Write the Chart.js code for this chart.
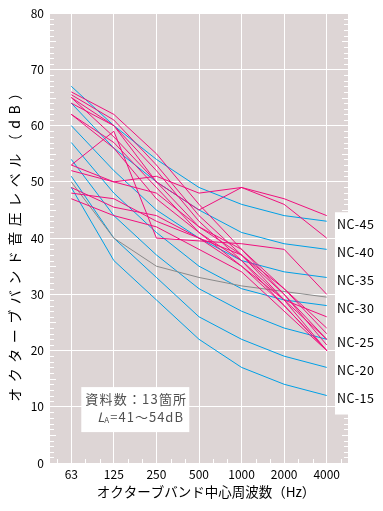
<!DOCTYPE html>
<html><head><meta charset="utf-8">
<script src="https://cdn.jsdelivr.net/npm/chart.js@4/dist/chart.umd.min.js"></script>
<style>html,body{margin:0;padding:0;background:#fff;}#wrap{width:383px;height:511px;position:relative;}</style>
</head><body><div id="wrap"><canvas id="c" width="383" height="511"></canvas></div>
<script>
const freqLabels = ['63','125','250','500','1000','2000','4000'];
const yMin = 0, yMax = 80, yStep = 10;
const ncNames = ['NC-45','NC-40','NC-35','NC-30','NC-25','NC-20','NC-15'];
const nc45 = [67, 60, 54, 49, 46, 44, 43];
const nc40 = [64, 56, 50, 45, 41, 39, 38];
const nc35 = [60, 52, 45, 40, 36, 34, 33];
const nc30 = [57, 48, 41, 35, 31, 29, 28];
const nc25 = [54, 44, 37, 31, 27, 24, 22];
const nc20 = [51, 40, 33, 26, 22, 19, 17];
const nc15 = [49, 36, 29, 22, 17, 14, 12];
const grayLine = [50, 40, 35, 33, 31.5, 30.5, 29.5];
const m1  = [66, 62, 55, 46, 38, 30, 21];
const m2  = [65.5, 61, 53, 44, 37, 29, 20];
const m3  = [65, 60, 52, 43, 36, 28, 20];
const m4  = [64, 60, 50, 42, 37, 31, 23];
const m5  = [62, 57, 49, 41, 36, 29, 22];
const m6  = [65, 58, 50, 45, 49, 46, 40];
const m7  = [53, 50, 51, 48, 49, 47, 44];
const m8  = [53, 59, 40, 39.5, 39, 38, 30];
const m9  = [62, 56, 47, 41, 35, 29, 26];
const m10 = [52, 50, 48, 42, 38, 31, 24];
const m11 = [49, 45.5, 44, 40, 35, 28, 20];
const m12 = [48, 47, 43, 40, 37, 30, 22];
const m13 = [47, 44, 42, 38, 34, 27, 20];
const noteLine1 = '資料数：13箇所';
const noteLine2 = '=41～54dB';
const xTitle = 'オクターブバンド中心周波数（Hz）';
const yTitle = 'オクターブバンド音圧レベル（dB）';

const CYAN = '#00a0e6', MAG = '#f0107e', GRAY = '#8a8a8a', BG = '#ddd5d5';
const FONT = '"Noto Sans CJK JP", "Noto Sans", sans-serif';
const ncSeries = [nc45, nc40, nc35, nc30, nc25, nc20, nc15];
const magSeries = [m1,m2,m3,m4,m5,m6,m7,m8,m9,m10,m11,m12,m13];

const datasets = [];
magSeries.forEach((d,i)=>datasets.push({label:'m'+(i+1),data:d,borderColor:MAG,borderWidth:1,pointRadius:0,tension:0,order:0}));
datasets.push({label:'gray',data:grayLine,borderColor:GRAY,borderWidth:1,pointRadius:0,tension:0,order:1});
ncSeries.forEach((d,i)=>datasets.push({label:ncNames[i],data:d,borderColor:CYAN,borderWidth:1,pointRadius:0,tension:0,order:2}));

const decor = {
  id:'decor',
  beforeDraw(chart){
    const {ctx, chartArea:a} = chart;
    ctx.save(); ctx.fillStyle = BG; ctx.fillRect(a.left, a.top, a.right-a.left, a.bottom-a.top); ctx.restore();
  },
  beforeDatasetsDraw(chart){
    const {ctx, chartArea:a, scales:{x,y}} = chart;
    ctx.save(); ctx.strokeStyle='#fff'; ctx.lineWidth=1;
    ctx.beginPath();
    for(let v=yMin; v<=yMax; v++){
      if(v%10===0) continue;
      const py = Math.round(y.getPixelForValue(v))+0.5;
      const len = (v%5===0)?6:4;
      ctx.moveTo(a.left, py); ctx.lineTo(a.left+len, py);
      ctx.moveTo(a.right, py); ctx.lineTo(a.right-len, py);
    }
    const step = x.getPixelForValue(1)-x.getPixelForValue(0);
    for(let i=-1;i<freqLabels.length+1;i++){
      for(let k=1;k<3;k++){
        const px = Math.round(x.getPixelForValue(0)+ (i + k/3)*step)+0.5;
        if(px<=a.left||px>=a.right) continue;
        ctx.moveTo(px, a.bottom); ctx.lineTo(px, a.bottom-4);
      }
    }
    ctx.stroke(); ctx.restore();
  },
  afterDraw(chart){
    const {ctx, chartArea:a, scales:{x,y}} = chart;
    ctx.save();
    // NC labels box
    const topY = y.getPixelForValue(nc45[6]) - 9;
    const botY = y.getPixelForValue(nc15[6]) + 19;
    ctx.fillStyle='#fff'; ctx.fillRect(a.right-13, topY, 60, botY-topY);
    ctx.fillStyle='#000'; ctx.font='12.5px '+FONT; ctx.textBaseline='middle'; ctx.textAlign='left';
    ctx.letterSpacing='0.5px';
    ncSeries.forEach((d,i)=>{ ctx.fillText(ncNames[i], a.right-11, y.getPixelForValue(d[6])+3); });
    // note box
    const bx = x.getPixelForValue(0)+10, by = y.getPixelForValue(13.5);
    ctx.fillStyle='#fff'; ctx.fillRect(bx, by, 108, 45);
    ctx.fillStyle='#505050'; ctx.font='13px '+FONT; ctx.textBaseline='middle';
    ctx.letterSpacing='1.2px';
    ctx.fillText(noteLine1, bx+4, by+12);
    ctx.letterSpacing='0px';
    ctx.font='italic 13px '+FONT; ctx.fillText('L', bx+16, by+30);
    ctx.font='8px '+FONT; ctx.fillText('A', bx+23, by+33);
    ctx.letterSpacing='1px';
    ctx.font='13px '+FONT; ctx.fillText(noteLine2, bx+29, by+30);
    // titles
    ctx.fillStyle='#000'; ctx.font='13.5px '+FONT; ctx.textAlign='center'; ctx.textBaseline='middle';
    ctx.letterSpacing='0px';
    ctx.fillText(xTitle, 206, 492);
    ctx.translate(15, (a.top+a.bottom)/2 + 3); ctx.rotate(-Math.PI/2);
    ctx.font='14px '+FONT; ctx.letterSpacing='5.5px'; ctx.fillText(yTitle, 0, 0);
    ctx.restore();
  }
};

new Chart(document.getElementById('c'), {
  type:'line',
  data:{labels:freqLabels, datasets},
  options:{
    responsive:false, animation:false, devicePixelRatio:1,
    layout:{padding:{top:12,right:35,left:0,bottom:0}},
    plugins:{legend:{display:false}, tooltip:{enabled:false}},
    scales:{
      x:{type:'category', offset:true,
        grid:{color:'#fff', lineWidth:1, drawTicks:false, offset:false},
        border:{display:false},
        ticks:{color:'#000', font:{family:FONT,size:12}, padding:4, maxRotation:0, autoSkip:false},
        afterFit(s){ s.height = 48; }
      },
      y:{min:yMin, max:yMax,
        grid:{color:'#fff', lineWidth:1, drawTicks:false},
        border:{display:false},
        ticks:{stepSize:yStep, color:'#000', font:{family:FONT,size:12}, padding:6},
        afterFit(s){ s.width = 50; }
      }
    }
  },
  plugins:[decor]
});
</script></body></html>
